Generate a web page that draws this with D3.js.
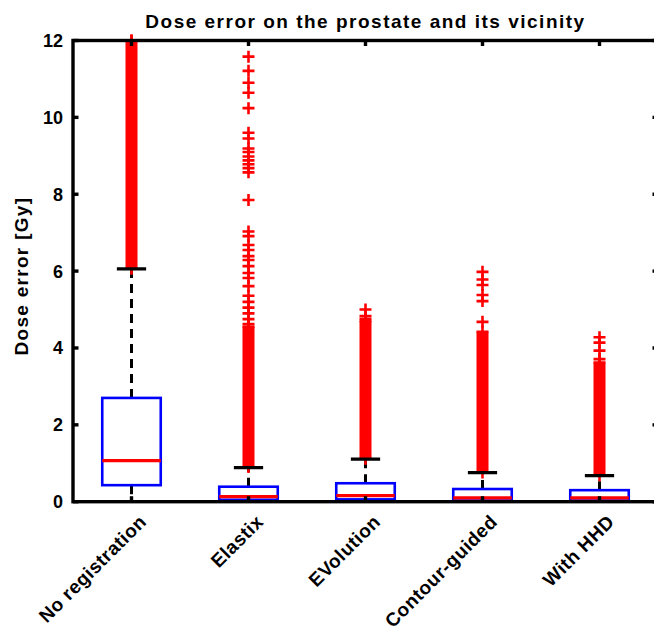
<!DOCTYPE html>
<html>
<head>
<meta charset="utf-8">
<script src="https://cdn.jsdelivr.net/npm/d3@7"></script>
<style>
  html, body { margin: 0; padding: 0; background: #fff; }
  svg { display: block; font-family: 'Liberation Sans', Arial, sans-serif; }
</style>
</head>
<body>
<script>
// DATA
const groups = ['No registration', 'Elastix', 'EVolution', 'Contour-guided', 'With HHD'];
const q1 = [0.43, 0.05, 0.06, 0.03, 0.03];
const medians = [1.07, 0.13, 0.16, 0.1, 0.1];
const q3 = [2.7, 0.39, 0.48, 0.33, 0.3];
const whiskerLow = [0, 0, 0, 0, 0];
const whiskerHigh = [6.06, 0.885, 1.11, 0.755, 0.68];
// outliers too dense to tell apart: [low, high]
const denseOutliers = [
  [6.06, 12],
  [0.9, 4.55],
  [1.12, 4.7],
  [0.76, 4.42],
  [0.69, 3.62],
];
const sparseOutliers = [
  [12],
  [11.58, 11.21, 10.9, 10.64, 10.24, 9.6, 9.45, 9.19, 9.1, 8.98, 8.88, 8.78,
    8.68, 8.57, 7.85, 7.03, 6.91, 6.68, 6.55, 6.39, 6.29, 6.13, 5.95, 5.82,
    5.61, 5.36, 5.2, 5.05, 4.9, 4.75, 4.62],
  [5.0, 4.83, 4.76],
  [5.98, 5.78, 5.64, 5.38, 5.22, 4.68],
  [4.28, 4.14, 3.93, 3.71],
];
const yTicks = [0, 2, 4, 6, 8, 10, 12];

const width = 654;
const height = 632;
const plotLeft = 73;
const plotRight = 658;
const plotTop = 40.5;
const plotBottom = 501.7;

const svg = d3
  .select('body')
  .append('svg')
  .attr('width', width)
  .attr('height', height);

const x = d3.scaleLinear().domain([0.5, groups.length + 0.5]).range([plotLeft, plotRight]);
const y = d3.scaleLinear().domain([0, 12]).range([plotBottom, plotTop]);

const plot = svg.append('g');

// clip marks to the axes (markers on the edge may stick out a little)
svg.append('clipPath').attr('id', 'clip')
  .append('rect')
  .attr('x', plotLeft).attr('y', plotTop - 8)
  .attr('width', plotRight - plotLeft).attr('height', plotBottom - plotTop + 8);

const marks = plot.append('g').attr('clip-path', 'url(#clip)');

const boxHalf = 0.25;
const capHalf = 0.125;
const markerHalf = 6;

const plus = (cx, cy) =>
  `M ${cx - markerHalf} ${cy} H ${cx + markerHalf} M ${cx} ${cy - markerHalf} V ${cy + markerHalf}`;

groups.forEach((name, i) => {
  const pos = i + 1;
  const cx = x(pos);
  const g = marks.append('g');

  // whiskers
  g.append('line')
    .attr('x1', cx).attr('x2', cx)
    .attr('y1', y(q3[i])).attr('y2', y(whiskerHigh[i]))
    .attr('stroke', '#000').attr('stroke-width', 3)
    .attr('stroke-dasharray', '9,6');
  g.append('line')
    .attr('x1', cx).attr('x2', cx)
    .attr('y1', y(q1[i])).attr('y2', y(whiskerLow[i]))
    .attr('stroke', '#000').attr('stroke-width', 3)
    .attr('stroke-dasharray', '9,6');

  // outliers
  const [lo, hi] = denseOutliers[i];
  g.append('rect')
    .attr('x', cx - markerHalf)
    .attr('y', y(hi))
    .attr('width', markerHalf * 2)
    .attr('height', y(lo) - y(hi))
    .attr('fill', '#ff0000');
  g.selectAll('path.outlier')
    .data(sparseOutliers[i].concat([lo, hi]))
    .join('path')
    .attr('class', 'outlier')
    .attr('d', (d) => plus(cx, y(d)))
    .attr('stroke', '#ff0000')
    .attr('stroke-width', 2.6)
    .attr('fill', 'none');

  // caps
  [whiskerLow[i], whiskerHigh[i]].forEach((v) => {
    g.append('line')
      .attr('x1', x(pos - capHalf)).attr('x2', x(pos + capHalf))
      .attr('y1', y(v)).attr('y2', y(v))
      .attr('stroke', '#000').attr('stroke-width', 3.2);
  });

  // box
  g.append('rect')
    .attr('x', x(pos - boxHalf))
    .attr('y', y(q3[i]))
    .attr('width', x(pos + boxHalf) - x(pos - boxHalf))
    .attr('height', y(q1[i]) - y(q3[i]))
    .attr('fill', 'none')
    .attr('stroke', '#0000ff')
    .attr('stroke-width', 2.6);

  // median
  g.append('line')
    .attr('x1', x(pos - boxHalf)).attr('x2', x(pos + boxHalf))
    .attr('y1', y(medians[i])).attr('y2', y(medians[i]))
    .attr('stroke', '#ff0000').attr('stroke-width', 3.2);
});

// AXES
const tickLen = 5.5;
const axes = plot.append('g').attr('stroke', '#000').attr('stroke-width', 3.4);

axes.append('rect')
  .attr('x', plotLeft).attr('y', plotTop)
  .attr('width', plotRight - plotLeft).attr('height', plotBottom - plotTop)
  .attr('fill', 'none');

yTicks.forEach((t) => {
  axes.append('line')
    .attr('x1', plotLeft).attr('x2', plotLeft + tickLen)
    .attr('y1', y(t)).attr('y2', y(t));
  axes.append('line')
    .attr('x1', plotRight).attr('x2', plotRight - tickLen)
    .attr('y1', y(t)).attr('y2', y(t));
});

groups.forEach((name, i) => {
  axes.append('line')
    .attr('x1', x(i + 1)).attr('x2', x(i + 1))
    .attr('y1', plotTop).attr('y2', plotTop + tickLen);
  axes.append('line')
    .attr('x1', x(i + 1)).attr('x2', x(i + 1))
    .attr('y1', plotBottom).attr('y2', plotBottom - tickLen);
});

// TEXT
svg.append('g')
  .selectAll('text')
  .data(yTicks)
  .join('text')
  .attr('x', plotLeft - 10)
  .attr('y', (d) => y(d))
  .attr('dy', '0.36em')
  .attr('text-anchor', 'end')
  .attr('font-size', 18)
  .attr('font-weight', 'bold')
  .text((d) => d);

svg.append('g')
  .selectAll('text')
  .data(groups)
  .join('text')
  .attr('transform', (d, i) => `translate(${x(i + 1) + 16}, 523) rotate(-45)`)
  .attr('text-anchor', 'end')
  .attr('font-size', 19)
  .attr('font-weight', 'bold')
  .attr('letter-spacing', 0.5)
  .text((d) => d);

svg.append('text')
  .attr('x', (plotLeft + plotRight) / 2)
  .attr('y', 28)
  .attr('text-anchor', 'middle')
  .attr('font-size', 19)
  .attr('font-weight', 'bold')
  .attr('letter-spacing', 1.5)
  .text('Dose error on the prostate and its vicinity');

svg.append('text')
  .attr('transform', `translate(28, ${(plotTop + plotBottom) / 2 + 5}) rotate(-90)`)
  .attr('text-anchor', 'middle')
  .attr('font-size', 19)
  .attr('font-weight', 'bold')
  .attr('letter-spacing', 1.3)
  .text('Dose error [Gy]');
</script>
</body>
</html>
